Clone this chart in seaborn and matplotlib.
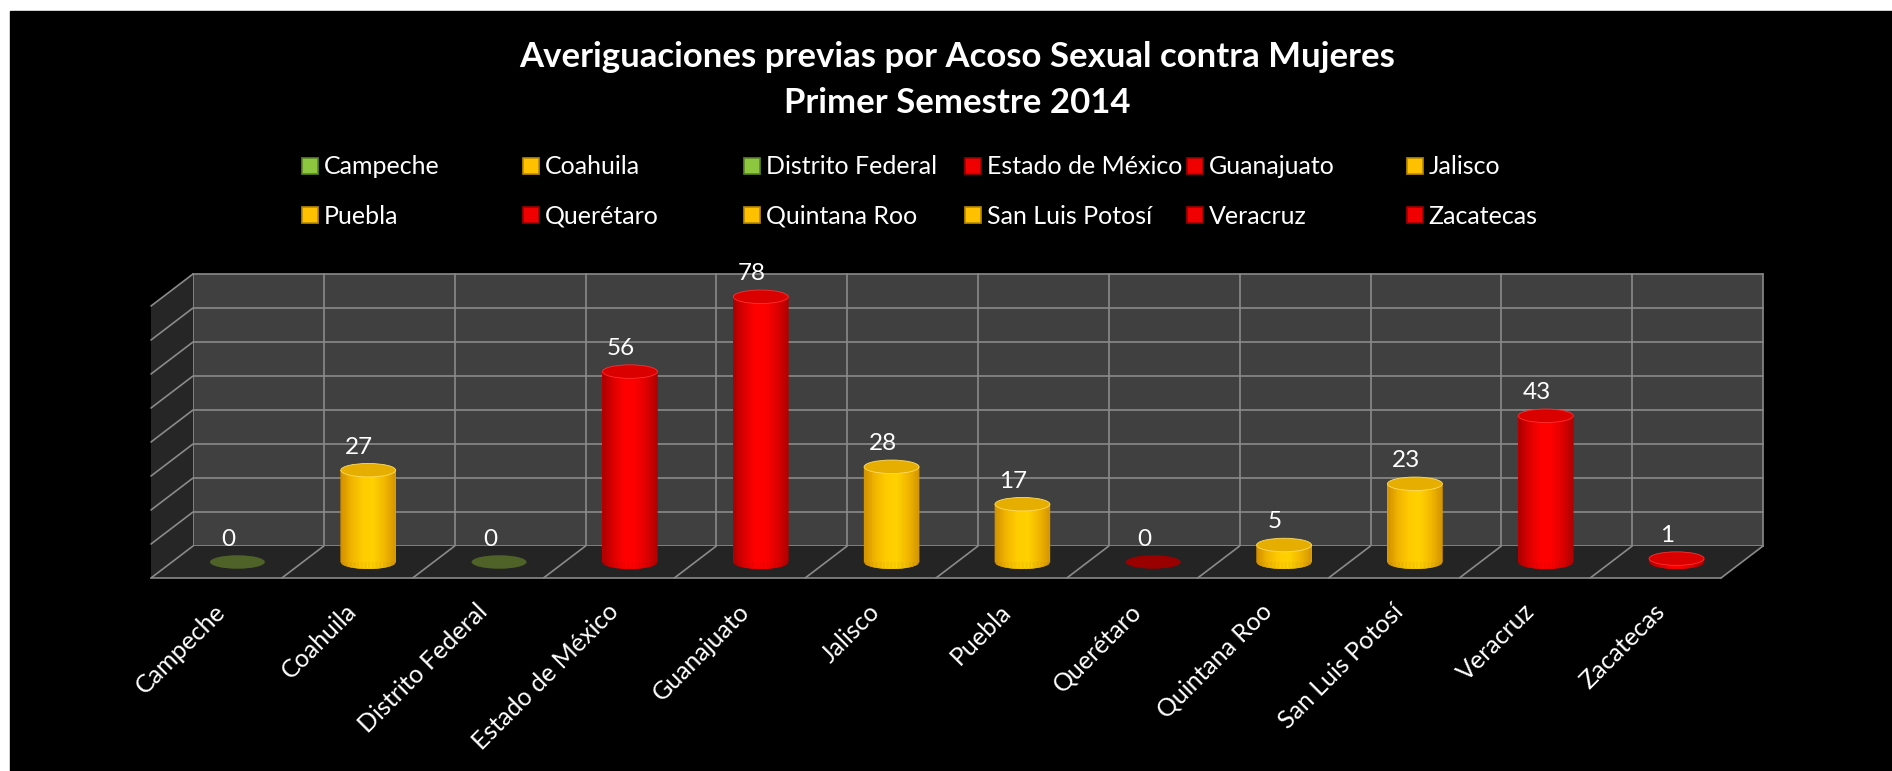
import numpy as np
import pandas as pd
import matplotlib
matplotlib.use("Agg")
import matplotlib.pyplot as plt
import seaborn as sns
from matplotlib.patches import Rectangle, Polygon, Ellipse
from matplotlib.lines import Line2D
from matplotlib.collections import PolyCollection
from matplotlib.colors import LinearSegmentedColormap

# datos
estados = ["Campeche", "Coahuila", "Distrito Federal", "Estado de México", "Guanajuato",
           "Jalisco", "Puebla", "Querétaro", "Quintana Roo", "San Luis Potosí",
           "Veracruz", "Zacatecas"]
casos = [0, 27, 0, 56, 78, 28, 17, 0, 5, 23, 43, 1]
nivel = ["verde", "amarillo", "verde", "rojo", "rojo", "amarillo",
         "amarillo", "rojo", "amarillo", "amarillo", "rojo", "rojo"]

titulo = "Averiguaciones previas por Acoso Sexual contra Mujeres"
subtitulo = "Primer Semestre 2014"

# colores por nivel
cuerpo = {"verde": "#6E9A35", "amarillo": "#FFC800", "rojo": "#F00000"}
tapa = {"verde": "#D8A800", "amarillo": "#E6AE00", "rojo": "#DA0000"}
tapa_cero = {"verde": "#4F6228", "amarillo": "#C89400", "rojo": "#9A0000"}
degradado = {
    "amarillo": ["#D08E00", "#F0B400", "#FFCC00", "#FFD200", "#F2B800", "#D49400"],
    "rojo": ["#A80000", "#DC0000", "#FF0000", "#FF0000", "#E00000", "#B00000"],
    "verde": ["#4F6228", "#6E9A35", "#6E9A35", "#4F6228"],
}
leyenda = {"verde": ("#8DC63F", "#5A8526"), "amarillo": ("#FFC000", "#B88A00"),
           "rojo": ("#F00000", "#9C0000")}

sns.set_theme(style="dark")
plt.rcParams["font.family"] = ["Lato", "DejaVu Sans"]

W, H = 1892, 771
fig = plt.figure(figsize=(W / 100, H / 100), dpi=100, facecolor="white")
fig.add_artist(Rectangle((10 / W, 0), 1, 1 - 11 / H, transform=fig.transFigure,
                         color="black", zorder=-10))

# plano de las barras (profundidad media)
x0, x1 = 172, 1742
y_base = 562
px_unidad = 3.4
ymax = 80
ax = fig.add_axes([x0 / W, (H - y_base) / H, (x1 - x0) / W, ymax * px_unidad / H])

df = pd.DataFrame({"estado": estados, "casos": casos, "nivel": nivel})
paleta = {e: cuerpo[n] for e, n in zip(estados, nivel)}
sns.barplot(data=df, x="estado", y="casos", hue="estado", palette=paleta,
            width=0.42, saturation=1, legend=False, ax=ax)
barras = list(ax.patches)

ax.set_facecolor("none")
ax.grid(False)
for s in ax.spines.values():
    s.set_visible(False)

n = len(estados)
DX = 21 / ((x1 - x0) / n)
DY = 16 / px_unidad
EH = 13.5 / px_unidad  # alto de la elipse en unidades de datos
gris = "#8a8a8a"
lw = 1.2

# pared del fondo
ax.add_patch(Rectangle((-0.5 + DX, DY), n, ymax, facecolor="#404040",
                       edgecolor="none", zorder=0, clip_on=False))
for v in range(0, ymax + 1, 10):
    ax.plot([-0.5 + DX, n - 0.5 + DX], [v + DY, v + DY], color=gris, lw=lw,
            zorder=0.5, clip_on=False)
for k in range(n + 1):
    ax.plot([k - 0.5 + DX] * 2, [DY, ymax + DY], color=gris, lw=lw,
            zorder=0.5, clip_on=False)

# pared lateral
ax.add_patch(Polygon([(-0.5 - DX, -DY), (-0.5 + DX, DY), (-0.5 + DX, ymax + DY),
                      (-0.5 - DX, ymax - DY)], closed=True, facecolor="#262626",
                     edgecolor="none", zorder=0.6, clip_on=False))
for v in range(10, ymax + 1, 10):
    ax.plot([-0.5 - DX, -0.5 + DX], [v - DY, v + DY], color=gris, lw=lw,
            zorder=0.7, clip_on=False)

# piso
ax.add_patch(Polygon([(-0.5 - DX, -DY), (n - 0.5 - DX, -DY), (n - 0.5 + DX, DY),
                      (-0.5 + DX, DY)], closed=True, facecolor="#242424",
                     edgecolor="none", zorder=0.6, clip_on=False))
ax.plot([-0.5 - DX, n - 0.5 - DX], [-DY, -DY], color=gris, lw=lw, zorder=0.7,
        clip_on=False)
for k in range(n + 1):
    ax.plot([k - 0.5 - DX, k - 0.5 + DX], [-DY, DY], color=gris, lw=lw,
            zorder=0.7, clip_on=False)

# cilindros: franjas verticales con degradado sobre cada barra
nf = 40
for barra, v, nv in zip(barras, casos, nivel):
    bx, bw = barra.get_x(), barra.get_width()
    cx = bx + bw / 2
    barra.set_zorder(2)
    barra.set_edgecolor("none")
    barra.set_linewidth(0)
    if v > 0:
        cmap = LinearSegmentedColormap.from_list(nv, degradado[nv])
        xs = np.linspace(bx, bx + bw, nf + 1)
        u = np.clip(2 * (xs - cx) / bw, -1, 1)
        yb = -EH / 2 * np.sqrt(1 - u ** 2)
        polys = [[(xs[j], yb[j]), (xs[j + 1], yb[j + 1]), (xs[j + 1], v), (xs[j], v)]
                 for j in range(nf)]
        cols = [cmap((j + 0.5) / nf) for j in range(nf)]
        ax.add_collection(PolyCollection(polys, facecolors=cols, edgecolors=cols,
                                         linewidths=0.4, zorder=3, clip_on=False))
        ax.add_patch(Ellipse((cx, v), bw, EH, facecolor=tapa[nv],
                             edgecolor="#FFDC60" if nv == "amarillo" else "#FF3030",
                             lw=0.6, zorder=4, clip_on=False))
    else:
        ax.add_patch(Ellipse((cx, 0), bw, EH, facecolor=tapa_cero[nv],
                             edgecolor="none", zorder=4, clip_on=False))

for i, v in enumerate(casos):
    ax.annotate(str(v), (i, v), xytext=(-9, 23), textcoords="offset pixels",
                ha="center", va="center", color="white", fontsize=17.5, zorder=6,
                annotation_clip=False)

ax.set_xlim(-0.5, n - 0.5)
ax.set_ylim(0, ymax)
ax.set_yticks([])
ax.set_xlabel("")
ax.set_ylabel("")
ax.set_xticks([i - DX - 0.02 for i in range(n)], estados, rotation=45, ha="right",
              rotation_mode="anchor", fontsize=18, color="white")
ax.tick_params(axis="x", length=0, pad=27)

# leyenda en 6 columnas, dos filas
col_x = [310, 531, 752, 973, 1195, 1415]
for c in range(6):
    idx = [c, c + 6]
    hs = [Line2D([], [], ls="none", marker="s", markersize=11,
                 markerfacecolor=leyenda[nivel[k]][0],
                 markeredgecolor=leyenda[nivel[k]][1], markeredgewidth=1.2)
          for k in idx]
    fig.legend(hs, [estados[k] for k in idx], loc="center left",
               bbox_to_anchor=((col_x[c] - 12.5) / W, 1 - 191.5 / H),
               frameon=False, fontsize=18, labelcolor="white", handlelength=1.0,
               handletextpad=0.05, labelspacing=1.05, borderpad=0, borderaxespad=0)

fig.text(957 / W, 1 - 57 / H, titulo, ha="center", va="center", fontsize=25,
         fontweight="bold", color="white")
fig.text(957 / W, 1 - 103 / H, subtitulo, ha="center", va="center", fontsize=25,
         fontweight="bold", color="white")

fig.savefig("out.png", dpi=100, facecolor="white")
